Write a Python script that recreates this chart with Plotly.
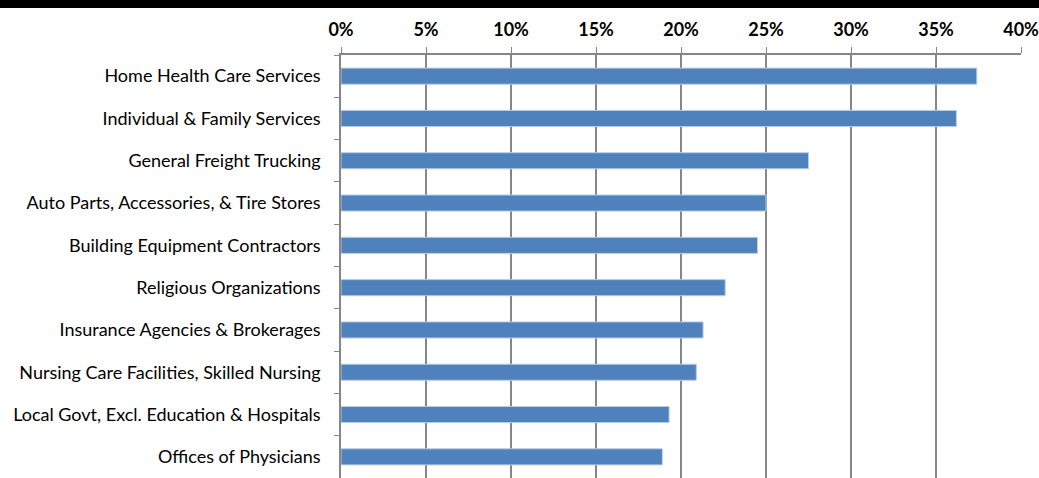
import plotly.graph_objects as go

# categories, top to bottom as shown
categories = [
    "Home Health Care Services",
    "Individual & Family Services",
    "General Freight Trucking",
    "Auto Parts, Accessories, & Tire Stores",
    "Building Equipment Contractors",
    "Religious Organizations",
    "Insurance Agencies & Brokerages",
    "Nursing Care Facilities, Skilled Nursing",
    "Local Govt, Excl. Education & Hospitals",
    "Offices of Physicians",
]
shares = [0.374, 0.362, 0.275, 0.250, 0.245, 0.226, 0.213, 0.209, 0.193, 0.189]
tick_vals = [0, 0.05, 0.10, 0.15, 0.20, 0.25, 0.30, 0.35, 0.40]
tick_text = ["0%", "5%", "10%", "15%", "20%", "25%", "30%", "35%", "40%"]

grey = "#868686"

fig = go.Figure()
fig.add_bar(
    x=shares, y=categories, orientation="h",
    marker=dict(color="#4F81BD", line=dict(color="#B9CDE5", width=1)),
    hovertemplate="%{y}: %{x:.1%}<extra></extra>",
)

fig.update_layout(
    width=1039, height=478,
    margin=dict(l=341, r=18, t=55, b=0),
    paper_bgcolor="white", plot_bgcolor="white",
    showlegend=False,
    bargap=0.62,
    font=dict(family="Lato, Open Sans, sans-serif", size=18, color="black"),
    xaxis=dict(
        side="top", range=[0, 0.40],
        tickvals=tick_vals, ticktext=tick_text,
        tickfont=dict(family="Lato, sans-serif", size=18, color="black", weight="bold"),
        ticklabeloverflow="allow",
        showgrid=True, gridcolor=grey, gridwidth=1.5,
        showline=True, linecolor=grey, linewidth=1.5,
        ticks="outside", ticklen=6, tickcolor=grey, tickwidth=1.2,
        ticklabelstandoff=4,
        zeroline=False, fixedrange=True,
    ),
    yaxis=dict(
        categoryorder="array", categoryarray=categories[::-1],
        showline=True, linecolor=grey, linewidth=1.5,
        ticks="outside", ticklen=5, tickcolor=grey, tickwidth=1.2,
        tickson="boundaries", ticklabelstandoff=15,
        showgrid=False, fixedrange=True,
    ),
    shapes=[dict(type="rect", xref="paper", yref="paper",
                 x0=-1, x1=2, y0=1.0 + 47 / 423, y1=1.3,
                 fillcolor="black", line=dict(width=0), layer="above")],
)

# drop the default page margin so the figure sits at the window corner
fig.write_html("out.html", config={"displayModeBar": False},
               post_script="document.body.style.margin='0';")
